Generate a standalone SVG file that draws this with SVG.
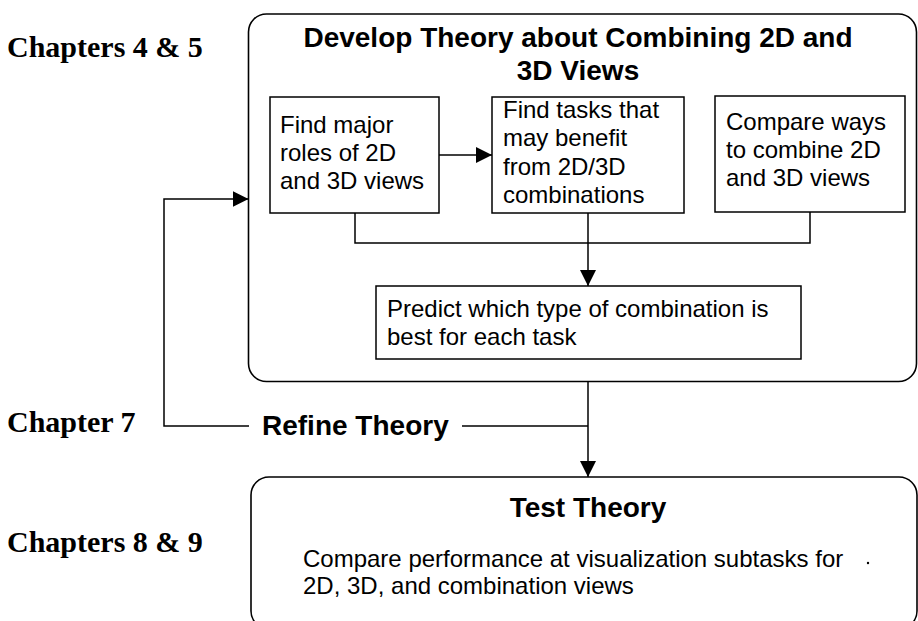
<svg xmlns="http://www.w3.org/2000/svg" width="918" height="621" viewBox="0 0 918 621">
  <defs>
    <marker id="arrow" markerUnits="userSpaceOnUse" markerWidth="17" markerHeight="17" refX="16" refY="8" orient="auto">
      <path d="M0,0 L16,8 L0,16 z" fill="#000"/>
    </marker>
    <style>
      .frame { fill: #fff; stroke: #000; stroke-width: 1.6; }
      .box { fill: #fff; stroke: #000; stroke-width: 1.5; }
      .wire { fill: none; stroke: #000; stroke-width: 1.5; }
      .head { font-family: "Liberation Sans", Arial, sans-serif; font-weight: bold; font-size: 28px; fill: #000; }
      .body { font-family: "Liberation Sans", Arial, sans-serif; font-size: 24px; fill: #000; }
      .chap { font-family: "Liberation Serif", "Times New Roman", serif; font-weight: bold; font-size: 30px; fill: #000; }
    </style>
  </defs>
  <rect width="918" height="621" fill="#fff"/>

  <!-- chapter labels -->
  <g id="chapters">
    <text class="chap" x="7" y="57">Chapters 4 &amp; 5</text>
    <text class="chap" x="7" y="432">Chapter 7</text>
    <text class="chap" x="7" y="552">Chapters 8 &amp; 9</text>
  </g>

  <!-- develop theory frame -->
  <g id="develop">
    <rect class="frame" x="248.5" y="14" width="668" height="367.5" rx="18" ry="18"/>
    <text class="head" x="578" y="47" text-anchor="middle">Develop Theory about Combining 2D and</text>
    <text class="head" x="578" y="80" text-anchor="middle">3D Views</text>
  </g>

  <g id="roles">
    <rect class="box" x="270" y="97" width="169" height="116"/>
    <text class="body" x="280" y="133">Find major</text>
    <text class="body" x="280" y="161">roles of 2D</text>
    <text class="body" x="280" y="189">and 3D views</text>
  </g>

  <g id="tasks">
    <rect class="box" x="492" y="97" width="192" height="116"/>
    <text class="body" x="503" y="118">Find tasks that</text>
    <text class="body" x="503" y="146">may benefit</text>
    <text class="body" x="503" y="175">from 2D/3D</text>
    <text class="body" x="503" y="203">combinations</text>
  </g>

  <g id="compare">
    <rect class="box" x="715" y="96" width="190" height="116"/>
    <text class="body" x="726" y="130">Compare ways</text>
    <text class="body" x="726" y="158">to combine 2D</text>
    <text class="body" x="726" y="186">and 3D views</text>
  </g>

  <g id="predict">
    <rect class="box" x="376" y="286" width="425" height="73"/>
    <text class="body" x="387" y="317">Predict which type of combination is</text>
    <text class="body" x="387" y="345">best for each task</text>
  </g>

  <!-- test theory frame -->
  <g id="test">
    <rect class="frame" x="251" y="477" width="666" height="152" rx="18" ry="18"/>
    <text class="head" x="588" y="517" text-anchor="middle">Test Theory</text>
    <text class="body" x="303" y="567">Compare performance at visualization subtasks for</text>
    <text class="body" x="303" y="594">2D, 3D, and combination views</text>
    <circle cx="868" cy="563" r="1.2" fill="#000"/>
  </g>

  <!-- refine label -->
  <g id="refine">
    <text class="head" x="262" y="435">Refine Theory</text>
  </g>

  <!-- connectors -->
  <g id="connectors">
    <path class="wire" d="M439,155 H492" marker-end="url(#arrow)"/>
    <path class="wire" d="M355,213 V243 H810 V212"/>
    <path class="wire" d="M588,213 V286" marker-end="url(#arrow)"/>
    <path class="wire" d="M588,381.5 V477" marker-end="url(#arrow)"/>
    <path class="wire" d="M588,426 H462"/>
    <path class="wire" d="M249,426 H164 V199 H248.5" marker-end="url(#arrow)"/>
  </g>
</svg>
